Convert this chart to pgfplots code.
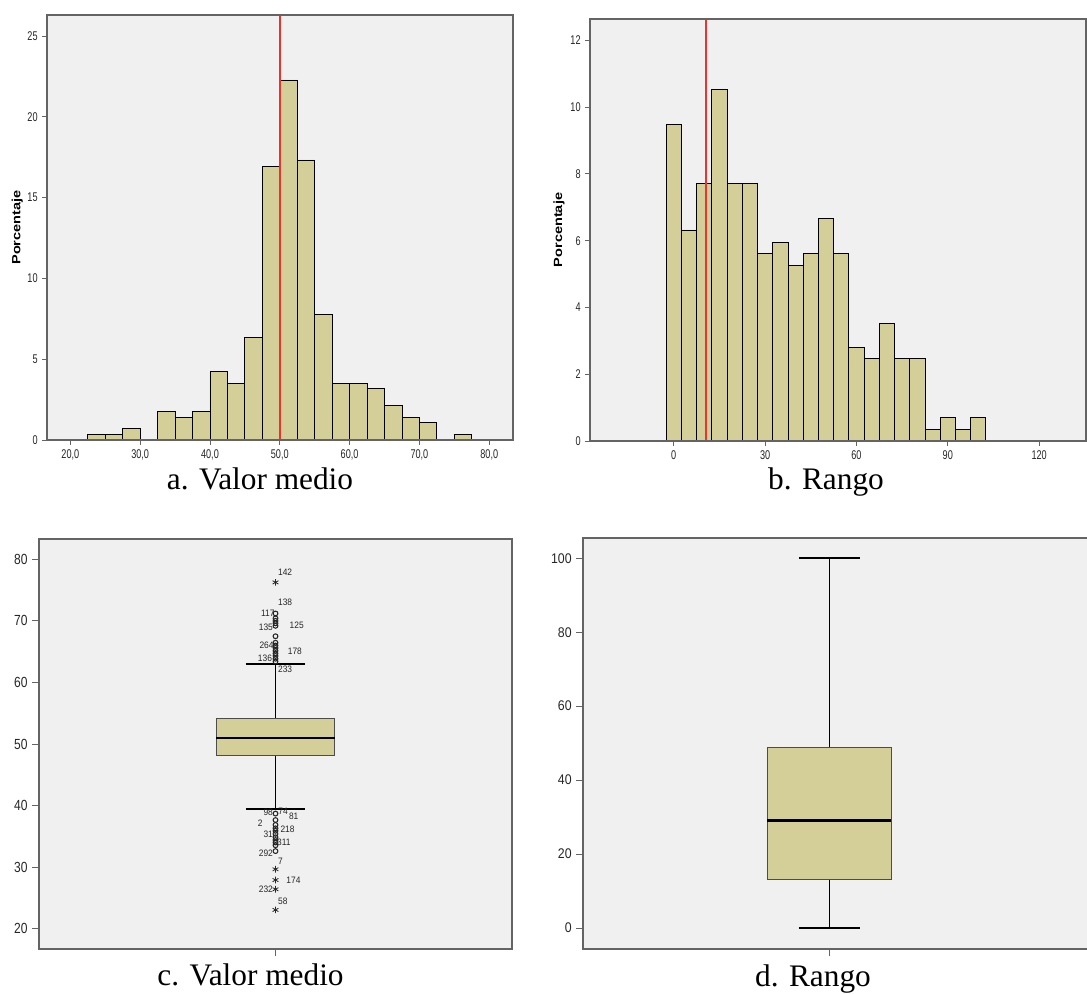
\documentclass[border=0pt]{standalone}
\usepackage{fontspec}
\setmainfont{Liberation Serif}
\newfontfamily\sansB{Liberation Sans}
\newfontfamily\tickA[FakeStretch=0.72]{Liberation Sans}
\newfontfamily\tickC[FakeStretch=0.82]{Liberation Sans}
\newfontfamily\tickD[FakeStretch=0.88]{Liberation Sans}
\newfontfamily\outl[FakeStretch=0.9]{Liberation Sans}
\usepackage{pgfplots}
\pgfplotsset{compat=1.18}
\definecolor{khaki}{RGB}{212,207,152}
\definecolor{bgc}{RGB}{240,240,240}
\definecolor{axc}{RGB}{100,100,100}
\definecolor{redl}{RGB}{235,50,45}
\pgfplotsset{
  spss/.style={
    scale only axis,
    axis background/.style={fill=bgc},
    axis line style={draw=axc, line width=1.1pt},
    tick style={draw=axc, line width=0.6pt},
    tick align=outside, xtick pos=left, ytick pos=left,
    axis on top,
    /pgf/number format/assume math mode=true,
    tick label style={color=black!85},
  },
  pct/.style={ylabel={\scalebox{1}[0.82]{\sansB\bfseries\fontsize{10.9}{12}\selectfont Porcentaje}}},
}
\newcommand{\olab}[4]{\node[font={\outl\fontsize{7}{8}\selectfont}, inner sep=0pt, anchor=#1, text=black!85] at (axis cs:#2,#3) {#4};}
\begin{document}
\begin{tikzpicture}

% ---------- a ----------
\begin{axis}[spss, at={(35.25pt,415.5pt)}, anchor=south west, width=349.5pt, height=318.75pt,
  xmin=16.66, xmax=83.4, ymin=0, ymax=26.3,
  xtick={20,30,...,80}, ytick={0,5,...,25},
  major tick length=3.5pt,
  xticklabel style={font={\tickA\fontsize{9.5}{10}\selectfont},
    /pgf/number format/fixed, /pgf/number format/fixed zerofill,
    /pgf/number format/precision=1, /pgf/number format/use comma},
  yticklabel style={font={\tickA\fontsize{9.5}{10}\selectfont}},
  pct, ylabel style={at={(axis description cs:-0.064,0.5)}, anchor=center},
]
\addplot[ybar interval, fill=khaki, draw=black, line width=0.6pt] coordinates {
(22.5,0.35)(25,0.35)(27.5,0.70)(30,0)(32.5,1.76)(35,1.41)(37.5,1.76)(40,4.23)
(42.5,3.52)(45,6.34)(47.5,16.95)(50,22.28)(52.5,17.33)(55,7.77)(57.5,3.52)
(60,3.52)(62.5,3.17)(65,2.11)(67.5,1.41)(70,1.06)(72.5,0)(75,0.35)(77.5,0)};
\addplot[draw=redl, line width=1.3pt] coordinates {(50,0)(50,26.3)};
\end{axis}

% ---------- b ----------
\begin{axis}[spss, at={(442.5pt,414.75pt)}, anchor=south west, width=372pt, height=316.5pt,
  xmin=-27.5, xmax=135.4, ymin=0, ymax=12.64,
  xtick={0,30,...,120}, ytick={0,2,...,12},
  major tick length=3.5pt,
  xticklabel style={font={\tickA\fontsize{9.5}{10}\selectfont}},
  yticklabel style={font={\tickA\fontsize{9.5}{10}\selectfont}},
  pct, ylabel style={at={(axis description cs:-0.0625,0.5)}, anchor=center},
]
\addplot[ybar interval, fill=khaki, draw=black, line width=0.6pt] coordinates {
(-2.5,9.47)(2.5,6.32)(7.5,7.72)(12.5,10.53)(17.5,7.72)(22.5,7.72)(27.5,5.61)
(32.5,5.96)(37.5,5.26)(42.5,5.61)(47.5,6.67)(52.5,5.61)(57.5,2.81)(62.5,2.46)
(67.5,3.51)(72.5,2.46)(77.5,2.46)(82.5,0.35)(87.5,0.70)(92.5,0.35)(97.5,0.70)(102.5,0)};
\addplot[draw=redl, line width=1.2pt] coordinates {(10.5,0)(10.5,12.64)};
\end{axis}

% ---------- c ----------
\begin{axis}[spss, at={(29.25pt,33.75pt)}, anchor=south west, width=354.75pt, height=307.5pt,
  xmin=0, xmax=2, ymin=16.7, ymax=83.3,
  xtick={1}, xticklabels={}, ytick={20,30,...,80},
  major tick length=5pt,
  yticklabel style={font={\tickC\fontsize{11}{12}\selectfont}},
]
\addplot[black, line width=1.3pt] coordinates {(1,54.2)(1,63.0)};
\addplot[black, line width=1.3pt] coordinates {(1,48.2)(1,39.5)};
\addplot[black, line width=1.4pt] coordinates {(0.875,63.0)(1.125,63.0)};
\addplot[black, line width=1.4pt] coordinates {(0.875,39.5)(1.125,39.5)};
\addplot[fill=khaki, draw=black!70, line width=0.8pt] coordinates {(0.75,48.2)(1.25,48.2)(1.25,54.2)(0.75,54.2)} -- cycle;
\addplot[black, line width=2pt] coordinates {(0.75,51.0)(1.25,51.0)};
\addplot[only marks, mark=o, mark size=1.8pt, draw=black!85, line width=0.8pt] coordinates {
(1,63.4)(1,63.85)(1,64.3)(1,64.7)(1,65.15)(1,65.6)(1,66.0)(1,66.45)(1,67.5)
(1,69.2)(1,69.6)(1,70.0)(1,70.4)(1,71.2)
(1,38.7)(1,37.65)(1,36.85)(1,36.3)(1,35.9)(1,35.4)(1,34.85)(1,34.4)(1,34.0)(1,33.55)(1,32.6)};
\addplot[only marks, mark=asterisk, mark size=2.5pt, draw=black!85, line width=0.6pt] coordinates {
(1,76.25)(1,29.65)(1,27.9)(1,26.4)(1,23.05)};
\olab{west}{1.01}{77.9}{142}
\olab{west}{1.01}{72.95}{138}
\olab{east}{0.997}{71.2}{117}
\olab{west}{1.059}{69.3}{125}
\olab{east}{0.99}{68.9}{135}
\olab{east}{0.993}{66.0}{264}
\olab{west}{1.051}{65.1}{178}
\olab{east}{0.986}{64.0}{136}
\olab{west}{1.01}{62.2}{233}
\olab{east}{0.99}{38.9}{98}
\olab{west}{1.011}{39.1}{74}
\olab{west}{1.056}{38.3}{81}
\olab{east}{0.946}{37.1}{2}
\olab{west}{1.02}{36.2}{218}
\olab{east}{0.99}{35.4}{31}
\olab{west}{1.006}{34.1}{311}
\olab{east}{0.99}{32.2}{292}
\olab{west}{1.01}{30.9}{7}
\olab{west}{1.045}{27.85}{174}
\olab{east}{0.99}{26.4}{232}
\olab{west}{1.01}{24.4}{58}
\end{axis}

% ---------- d ----------
\begin{axis}[spss, at={(437.25pt,33.75pt)}, anchor=south west, width=379.5pt, height=308.25pt,
  xmin=0, xmax=2.054, ymin=-5.7, ymax=105.5,
  xtick={1}, xticklabels={}, ytick={0,20,...,100},
  major tick length=5pt,
  yticklabel style={font={\tickD\fontsize{10.5}{12}\selectfont}},
]
\addplot[black, line width=0.8pt] coordinates {(1,48.9)(1,100)};
\addplot[black, line width=0.8pt] coordinates {(1,13.0)(1,0)};
\addplot[black, line width=1.3pt] coordinates {(0.876,100)(1.124,100)};
\addplot[black, line width=1.3pt] coordinates {(0.876,0)(1.124,0)};
\addplot[fill=khaki, draw=black!70, line width=0.8pt] coordinates {(0.7485,13.0)(1.2515,13.0)(1.2515,48.9)(0.7485,48.9)} -- cycle;
\addplot[black, line width=2pt] coordinates {(0.7485,29.0)(1.2515,29.0)};
\end{axis}

% ---------- captions ----------
\node[font=\fontsize{23.5}{28}\selectfont, anchor=base, inner sep=0pt] at (195pt,378pt) {a. Valor medio};
\node[font=\fontsize{23.5}{28}\selectfont, anchor=base, inner sep=0pt] at (619.5pt,378pt) {b. Rango};
\node[font=\fontsize{23.5}{28}\selectfont, anchor=base, inner sep=0pt] at (187.9pt,6pt) {c. Valor medio};
\node[font=\fontsize{23.5}{28}\selectfont, anchor=base, inner sep=0pt] at (609.75pt,5.25pt) {d. Rango};

\pgfresetboundingbox
\path[use as bounding box] (0pt,0pt) rectangle (815.25pt,745.5pt);
\end{tikzpicture}
\end{document}
